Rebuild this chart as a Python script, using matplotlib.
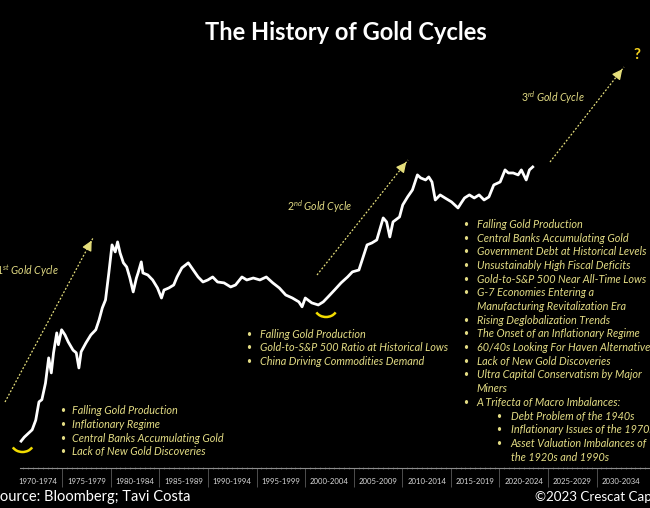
import matplotlib
matplotlib.use("Agg")
from matplotlib import pyplot as plt
from matplotlib.patches import Arc
from matplotlib.lines import Line2D
from matplotlib.transforms import blended_transform_factory

# Gold price (USD/oz, monthly)
years = [1970.77, 1971.10, 1971.91, 1972.28, 1972.61, 1972.91, 1973.28, 1973.61, 1973.88, 1974.11,
         1974.44, 1974.61, 1974.94, 1975.29, 1975.62, 1976.12, 1976.45, 1976.72, 1976.95, 1977.45,
         1977.95, 1978.46, 1978.80, 1979.13, 1979.46, 1979.80, 1980.13, 1980.46, 1980.70, 1980.96,
         1981.30, 1981.64, 1981.97, 1982.31, 1982.64, 1982.81, 1983.14, 1983.31, 1983.81, 1984.31,
         1984.81, 1985.22, 1985.48, 1985.98, 1986.48, 1986.82, 1987.32, 1987.98, 1988.49, 1988.99,
         1989.49, 1989.99, 1990.49, 1990.99, 1991.66, 1992.34, 1992.84, 1993.50, 1994.00, 1994.67,
         1995.35, 1996.01, 1996.68, 1997.35, 1998.01, 1998.69, 1999.36, 1999.69, 2000.02, 2000.69,
         2001.36, 2001.87, 2002.37, 2003.03, 2003.70, 2004.37, 2004.87, 2005.54, 2005.88, 2006.38,
         2006.88, 2007.38, 2008.04, 2008.39, 2008.72, 2009.05, 2009.72, 2010.05, 2010.55, 2011.05,
         2011.56, 2011.90, 2012.40, 2012.73, 2013.06, 2013.40, 2013.90, 2014.40, 2015.07, 2015.74,
         2016.07, 2016.41, 2016.91, 2017.41, 2017.91, 2018.42, 2018.92, 2019.42, 2020.08, 2020.58,
         2020.92, 2021.42, 2021.93, 2022.26, 2022.76, 2023.09, 2023.43]
prices = [32, 34, 38, 44, 58, 60, 77, 113, 90, 122,
          165, 138, 173, 160, 144, 127, 122, 97, 124, 142,
          160, 173, 201, 241, 272, 409, 626, 563, 655, 554,
          477, 448, 379, 307, 379, 409, 484, 409, 397, 368,
          326, 280, 316, 326, 341, 385, 442, 477, 428, 385,
          357, 368, 385, 357, 352, 331, 341, 385, 368, 379,
          368, 385, 352, 326, 293, 280, 264, 245, 280, 260,
          252, 264, 285, 316, 352, 385, 416, 428, 499, 626,
          645, 675, 942, 887, 706, 887, 956, 1147, 1295, 1440,
          1808, 1727, 1675, 1753, 1625, 1237, 1335, 1275, 1201, 1096,
          1183, 1275, 1335, 1275, 1335, 1237, 1295, 1553, 1625, 1950,
          1862, 1862, 1808, 1950, 1675, 1950, 2040]

periods = ["1970-1974", "1975-1979", "1980-1984", "1985-1989", "1990-1994", "1995-1999", "2000-2004",
           "2005-2009", "2010-2014", "2015-2019", "2020-2024", "2025-2029", "2030-2034"]
period_starts = [1970 + 5 * i for i in range(len(periods))]

cycle1_notes = ["Falling Gold Production", "Inflationary Regime",
                "Central Banks Accumulating Gold", "Lack of New Gold Discoveries"]
cycle2_notes = ["Falling Gold Production", "Gold-to-S&P 500 Ratio at Historical Lows",
                "China Driving Commodities Demand"]
cycle3_notes = ["Falling Gold Production", "Central Banks Accumulating Gold",
                "Government Debt at Historical Levels", "Unsustainably High Fiscal Deficits",
                "Gold-to-S&P 500 Near All-Time Lows",
                "G-7 Economies Entering a\nManufacturing Revitalization Era",
                "Rising Deglobalization Trends", "The Onset of an Inflationary Regime",
                "60/40s Looking For Haven Alternatives", "Lack of New Gold Discoveries",
                "Ultra Capital Conservatism by Major\nMiners", "A Trifecta of Macro Imbalances:"]
cycle3_sub = ["Debt Problem of the 1940s", "Inflationary Issues of the 1970s",
              "Asset Valuation Imbalances of\nthe 1920s and 1990s"]

W, H = 650, 508
NOTE = '#e3dc84'
ARROW = '#e6df7c'
SMILE = '#f2dc00'

plt.rcParams['font.family'] = ['Lato', 'DejaVu Sans']
plt.rcParams['mathtext.fontset'] = 'custom'
plt.rcParams['mathtext.it'] = 'Lato:italic'
plt.rcParams['mathtext.rm'] = 'Lato'

fig = plt.figure(figsize=(6.5, 5.08), dpi=100, facecolor='black')
ax = fig.add_axes([0, 40 / H, 1, 468 / H])
ax.set_facecolor('black')
ax.plot(years, prices, color='white', lw=2.0, solid_joinstyle='round')
ax.set_yscale('log')
ax.set_ylim(21.3, 25600)
ax.set_xlim(1968.6, 2033.8)

for s in ['top', 'right', 'left']:
    ax.spines[s].set_visible(False)
ax.spines['bottom'].set_color('#8c8c8c')
ax.spines['bottom'].set_linewidth(0.8)
ax.spines['bottom'].set_bounds(1970.7, 2040)
ax.set_yticks([])
ax.minorticks_off()
ax.set_xticks(period_starts[1:])
ax.set_xticklabels([])
ax.tick_params(axis='x', which='major', direction='out', length=14, width=0.6, color='#5a5a5a')
half_years = [1971 + 0.5 * i for i in range(130)]
ax.set_xticks(half_years, minor=True)
ax.tick_params(axis='x', which='minor', direction='inout', length=2, width=0.4, color='#6e6e6e')

trans = blended_transform_factory(ax.transData, ax.transAxes)
for start, lab in zip(period_starts, periods):
    ax.text(start + 2.5, -13.5 / 468, lab, transform=trans, ha='center', va='center',
            fontsize=5.6, color='#d9d9d9')


def fx(x, y):
    return (x / W, 1 - y / H)


def ftext(x, y, s, **kw):
    fig.text(x / W, 1 - y / H, s, **kw)


def bullets(items, xb, xt, y0, step=13.7, size=7.8):
    y = y0
    for item in items:
        lines = item.split('\n')
        ftext(xb, y, '\u2022', color=NOTE, fontsize=size * 0.8, ha='center', va='center')
        for ln in lines:
            ftext(xt, y, ln, color=NOTE, fontsize=size, style='italic', ha='left', va='center')
            y += step
    return y


bullets(cycle1_notes, 63, 72.5, 410.7)
bullets(cycle2_notes, 249, 260, 334)
y_end = bullets(cycle3_notes, 466, 476.7, 224.3)
bullets(cycle3_sub, 499, 510.7, y_end)

# cycle labels
ftext(-4, 271, r'$\mathit{1^{st}}$ Gold Cycle', color=NOTE, fontsize=7.6, style='italic', va='center')
ftext(287, 207, r'$\mathit{2^{nd}}$ Gold Cycle', color=NOTE, fontsize=7.6, style='italic', va='center')
ftext(521, 98, r'$\mathit{3^{rd}}$ Gold Cycle', color=NOTE, fontsize=7.6, style='italic', va='center')
ftext(637, 55, '?', color='#f5d21e', fontsize=11, fontweight='bold', ha='center', va='center')

# dotted trend arrows
for (x0, y0), (x1, y1) in [((5, 402), (93, 238)), ((317, 275), (408, 160)), ((550, 162), (624, 67))]:
    fig.add_artist(Line2D([x0 / W, x1 / W], [1 - y0 / H, 1 - y1 / H], transform=fig.transFigure,
                          color=ARROW, lw=0.9, linestyle=(0, (1.5, 1.5))))
    dx, dy = (x1 - x0), (y1 - y0)
    n = (dx * dx + dy * dy) ** 0.5
    tail = (x1 - dx / n * 8, y1 - dy / n * 8)
    ax.annotate('', xy=fx(x1, y1), xytext=fx(*tail), xycoords='figure fraction',
                textcoords='figure fraction',
                arrowprops=dict(arrowstyle='-|>,head_length=0.6,head_width=0.3', color=ARROW, lw=0.9))

# smiles under the cycle lows
for cx, cy in [(22.5, 443), (326, 308)]:
    fig.add_artist(Arc((cx / W, 1 - cy / H), 22 / W, 18 / H, theta1=210, theta2=330,
                       transform=fig.transFigure, color=SMILE, lw=1.8))

ftext(346, 33, 'The History of Gold Cycles', color='white', fontsize=17, fontweight='bold',
      ha='center', va='center')
ftext(-8, 497, 'Source: Bloomberg; Tavi Costa', color='white', fontsize=10.5, ha='left', va='center')
ftext(535, 497, '\u00a92023 Crescat Capital', color='white', fontsize=9.6, ha='left', va='center')

fig.savefig('out.png', dpi=100, facecolor='black')
